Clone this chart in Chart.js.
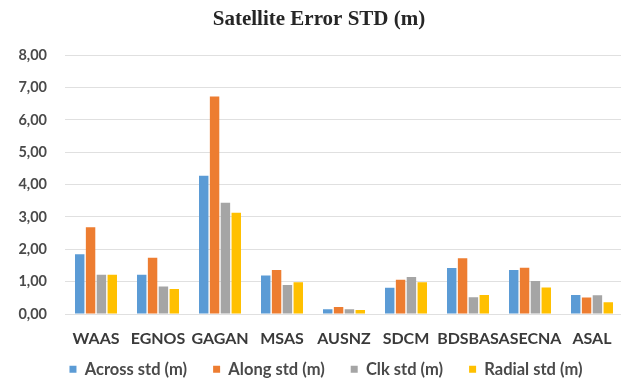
<!DOCTYPE html>
<html>
<head>
<meta charset="utf-8">
<script src="https://cdn.jsdelivr.net/npm/chart.js@4"></script>
<style>
  html, body { margin: 0; padding: 0; background: #fff; overflow: hidden; }
  #wrap { width: 630px; height: 387px; }
</style>
</head>
<body>
<div id="wrap"><canvas id="chart" width="630" height="387"></canvas></div>
<script>
// Categories and series
const systems = ['WAAS', 'EGNOS', 'GAGAN', 'MSAS', 'AUSNZ', 'SDCM', 'BDSBAS', 'ASECNA', 'ASAL'];
const acrossStd = [1.85, 1.21, 4.27, 1.19, 0.15, 0.81, 1.42, 1.36, 0.59];
const alongStd  = [2.68, 1.74, 6.72, 1.36, 0.22, 1.06, 1.72, 1.43, 0.51];
const clkStd    = [1.21, 0.85, 3.44, 0.90, 0.15, 1.14, 0.52, 1.02, 0.58];
const radialStd = [1.21, 0.77, 3.13, 0.98, 0.12, 0.98, 0.59, 0.82, 0.36];
const yTicks = [0, 1, 2, 3, 4, 5, 6, 7, 8];

const textColor = '#4a4a4a';
const labelFont = { family: 'Lato', weight: 'bold', size: 16 };

// the legend overlaps the tall x-axis box; place it where the reference has it
const legendPlace = {
    id: 'legendPlace',
    afterLayout(chart) {
        const lg = chart.legend;
        lg.top = 335;
        lg.bottom = 386;
        lg.left += 7;
        lg.right += 7;
    }
};

const ctx = document.getElementById('chart').getContext('2d');

const chart = new Chart(ctx, {
    type: 'bar',
    data: {
        labels: systems,
        datasets: [
            { label: 'Across std (m)', data: acrossStd, backgroundColor: '#5b9bd5' },
            { label: 'Along std (m)', data: alongStd, backgroundColor: '#ed7d31' },
            { label: 'Clk std (m)', data: clkStd, backgroundColor: '#a5a5a5' },
            { label: 'Radial std (m)', data: radialStd, backgroundColor: '#ffc000' }
        ]
    },
    plugins: [legendPlace],
    options: {
        responsive: false,
        animation: false,
        datasets: {
            bar: { categoryPercentage: 0.7, barPercentage: 0.87 }
        },
        layout: { padding: { left: 15, right: 7, top: 5, bottom: 0 } },
        plugins: {
            title: {
                display: true,
                text: 'Satellite Error STD (m)',
                color: '#262626',
                font: { family: 'Liberation Serif', weight: 'bold', size: 21 },
                padding: { top: 2, bottom: 23 }
            },
            legend: {
                position: 'bottom',
                maxHeight: 13,
                labels: {
                    color: textColor,
                    font: { family: 'Lato', weight: 'bold', size: 16.5 },
                    boxWidth: 7,
                    boxHeight: 7,
                    padding: 26
                }
            },
            tooltip: { enabled: false }
        },
        scales: {
            x: {
                afterFit: (scale) => { scale.height = 60; },
                grid: { display: false },
                border: { display: false },
                ticks: { color: '#3a3a3a', font: labelFont, padding: 7, maxRotation: 0, autoSkip: false }
            },
            y: {
                min: 0,
                max: 8,
                afterBuildTicks: (scale) => { scale.ticks = yTicks.map(v => ({ value: v })); },
                afterFit: (scale) => { scale.width = 50; },
                grid: { color: '#e0e0e0', drawTicks: false },
                border: { display: false },
                ticks: {
                    color: textColor,
                    font: { family: 'Lato', weight: 'bold', size: 14.5 },
                    padding: 18,
                    callback: (v) => Number(v).toFixed(2).replace('.', ',')
                }
            }
        }
    }
});
</script>
</body>
</html>
